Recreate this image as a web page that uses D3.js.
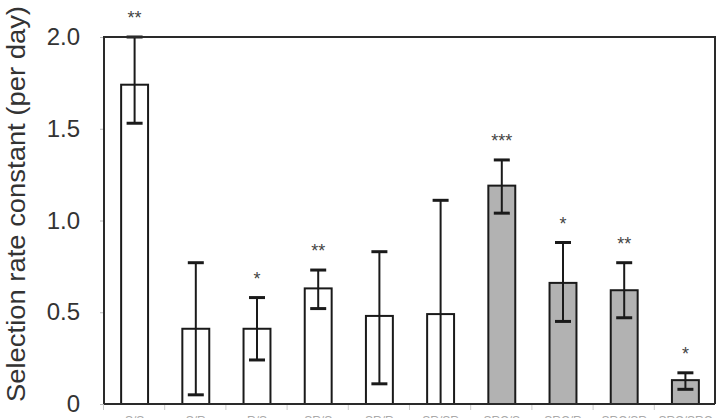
<!DOCTYPE html>
<html>
<head>
<meta charset="utf-8">
<script src="https://cdn.jsdelivr.net/npm/d3@7"></script>
<style>
  body { margin: 0; background: #fff; }
  text { font-family: "Liberation Sans", Arial, sans-serif; }
</style>
</head>
<body>
<div id="chart"></div>
<script>
// data
var categories = ["S/S", "S/R", "R/S", "SR/S", "SR/R", "SR/SR", "SRC/S", "SRC/R", "SRC/SR", "SRC/SRC"];
var values     = [1.74, 0.41, 0.41, 0.63, 0.48, 0.49, 1.19, 0.66, 0.62, 0.13];
var errUpper   = [2.00, 0.77, 0.58, 0.73, 0.83, 1.11, 1.33, 0.88, 0.77, 0.17];
var errLower   = [1.53, 0.05, 0.24, 0.52, 0.11, 0.00, 1.04, 0.45, 0.47, 0.08];
var stars      = ["**", "", "*", "**", "", "", "***", "*", "**", "*"];
var shaded     = [false, false, false, false, false, false, true, true, true, true];
var yTicks     = [0, 0.5, 1.0, 1.5, 2.0];

var w = 718, h = 418;
var margin = {top: 37, right: 2, bottom: 14, left: 104};

var svg = d3.select("#chart").append("svg")
    .attr("width", w)
    .attr("height", h);

var data = categories.map(function(c, i) {
    return {cat: c, v: values[i], hi: errUpper[i], lo: errLower[i], star: stars[i], grey: shaded[i]};
});

//scales
var xScale = d3.scaleBand()
    .domain(categories)
    .range([margin.left, w - margin.right])
    .paddingInner(0.56)
    .paddingOuter(0.28);

var yScale = d3.scaleLinear()
    .domain([0, 2])
    .range([h - margin.bottom, margin.top]);

var cx = function(d) { return xScale(d.cat) + xScale.bandwidth() / 2; };

// category separator ticks below the axis
svg.append("g")
    .selectAll("line")
    .data(categories)
    .enter()
    .append("line")
    .attr("x1", function(d) { return xScale(d) - xScale.step() * xScale.paddingInner() / 2 - 0.5; })
    .attr("x2", function(d) { return xScale(d) - xScale.step() * xScale.paddingInner() / 2 - 0.5; })
    .attr("y1", yScale(0))
    .attr("y2", yScale(0) + 6)
    .attr("stroke", "#ccc")
    .attr("stroke-width", 1);

// x labels (cut off at the bottom edge like the original)
svg.append("g")
    .selectAll("text")
    .data(categories)
    .enter()
    .append("text")
    .attr("x", function(d) { return xScale(d) + xScale.bandwidth() / 2; })
    .attr("y", h + 7)
    .attr("text-anchor", "middle")
    .attr("font-size", "12px")
    .attr("fill", "#aaa")
    .text(function(d) { return d; });

// y axis
var yAxis = d3.axisLeft(yScale)
    .tickValues(yTicks)
    .tickSize(4)
    .tickPadding(20)
    .tickFormat(function(d) { return d === 0 ? "0" : d3.format(".1f")(d); });

var gy = svg.append("g")
    .attr("transform", "translate(" + margin.left + ",0)")
    .call(yAxis);
gy.select(".domain").remove();
gy.selectAll(".tick line").attr("stroke", "#bbb");
gy.selectAll(".tick text")
    .attr("font-size", "24px")
    .attr("fill", "#333")
    .style("font-family", "'Liberation Sans', Arial, sans-serif");

svg.append("text")
    .attr("transform", "translate(25,204)rotate(-90)")
    .attr("text-anchor", "middle")
    .attr("font-size", "25px")
    .attr("textLength", 396)
    .attr("lengthAdjust", "spacingAndGlyphs")
    .attr("fill", "#333")
    .text("Selection rate constant (per day)");

// bars
svg.append("g")
    .selectAll("rect")
    .data(data)
    .enter()
    .append("rect")
    .attr("x", function(d) { return xScale(d.cat); })
    .attr("y", function(d) { return yScale(d.v); })
    .attr("width", xScale.bandwidth())
    .attr("height", function(d) { return yScale(0) - yScale(d.v); })
    .attr("fill", function(d) { return d.grey ? "#b2b2b2" : "#fff"; })
    .attr("stroke", "#1a1a1a")
    .attr("stroke-width", 2);

// error bars
var err = svg.append("g")
    .selectAll("g")
    .data(data)
    .enter()
    .append("g")
    .attr("stroke", "#1a1a1a")
    .attr("stroke-width", 2);

err.append("line")
    .attr("x1", cx)
    .attr("x2", cx)
    .attr("y1", function(d) { return yScale(d.hi); })
    .attr("y2", function(d) { return yScale(d.lo); });

err.append("line")
    .attr("x1", function(d) { return cx(d) - 8; })
    .attr("x2", function(d) { return cx(d) + 8; })
    .attr("y1", function(d) { return yScale(d.hi); })
    .attr("y2", function(d) { return yScale(d.hi); })
    .attr("stroke-width", 3);

err.filter(function(d) { return d.lo > 0; })
    .append("line")
    .attr("x1", function(d) { return cx(d) - 8; })
    .attr("x2", function(d) { return cx(d) + 8; })
    .attr("y1", function(d) { return yScale(d.lo); })
    .attr("y2", function(d) { return yScale(d.lo); })
    .attr("stroke-width", 3);

// significance stars
svg.append("g")
    .selectAll("text")
    .data(data)
    .enter()
    .append("text")
    .attr("x", cx)
    .attr("y", function(d) { return yScale(d.hi) - 13; })
    .attr("text-anchor", "middle")
    .attr("font-size", "18px")
    .attr("fill", "#444")
    .text(function(d) { return d.star; });

// plot frame: left, top, right, bottom
var x0 = margin.left, x1 = w - margin.right - 1;
svg.append("path")
    .attr("d", "M" + x0 + "," + yScale(0) + "V" + yScale(2) + "H" + x1 + "V" + yScale(0))
    .attr("fill", "none")
    .attr("stroke", "#2a2a2a")
    .attr("stroke-width", 2);
svg.append("line")
    .attr("x1", x0).attr("x2", x1)
    .attr("y1", yScale(0)).attr("y2", yScale(0))
    .attr("stroke", "#2a2a2a")
    .attr("stroke-width", 2);
</script>
</body>
</html>
